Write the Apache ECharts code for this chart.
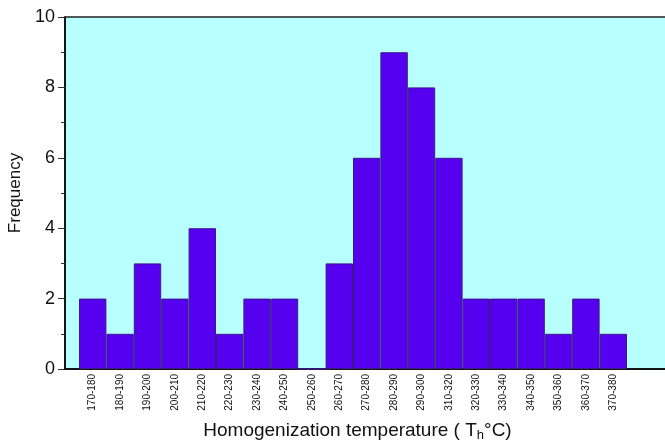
<!DOCTYPE html>
<html><head><meta charset="utf-8">
<script src="https://cdn.jsdelivr.net/npm/echarts@6/dist/echarts.min.js"></script>
<style>html,body{margin:0;padding:0;background:#fff}#c{width:665px;height:442px}</style>
</head><body><div id="c"></div>
<script>
const categories = ['170-180','180-190','190-200','200-210','210-220','220-230','230-240','240-250','250-260','260-270','270-280','280-290','290-300','310-320','320-330','330-340','340-350','350-360','360-370','370-380'];
const frequency = [2,1,3,2,4,1,2,2,0,3,6,9,8,6,2,2,2,1,2,1];
const yTicks = [0,2,4,6,8,10];

const chart = echarts.init(document.getElementById('c'));
const F = 'Liberation Sans, Arial, sans-serif';
chart.setOption({
  animation: false,
  grid: [
    {left: 65, right: -17, top: 17, bottom: 73, show: true, backgroundColor: '#b8ffff', borderColor: '#222', borderWidth: 1.5, containLabel: false, outerBoundsMode: 'none'},
    {left: 79, width: 548, top: 17, bottom: 73, containLabel: false, outerBoundsMode: 'none'}
  ],
  xAxis: [
    {type: 'value', gridIndex: 0, min: 0, max: 1, show: true, axisLine: {show: true, lineStyle: {color: '#000', width: 1.5}}, axisTick: {show: false}, axisLabel: {show: false}, splitLine: {show: false},
     name: '{a|Homogenization temperature ( T}{s|h}{a|°C)}', nameLocation: 'middle', nameGap: 50,
     nameTextStyle: {padding: [0, 32, 0, 0], rich: {a: {fontSize: 19, fontFamily: F, color: '#111'}, s: {fontSize: 13, fontFamily: F, color: '#111', verticalAlign: 'bottom', padding: [10,0,0,0]}}}},
    {type: 'category', gridIndex: 1, data: categories, boundaryGap: true,
     axisLine: {show: false}, axisTick: {show: false},
     axisLabel: {rotate: 90, fontSize: 10, fontFamily: F, color: '#111', interval: 0, margin: 5}}
  ],
  yAxis: [
    {type: 'value', gridIndex: 0, min: 0, max: 10, interval: 2,
     axisLine: {show: true, lineStyle: {color: '#000', width: 1.5}},
     axisTick: {show: true, length: 7, lineStyle: {color: '#333'}},
     minorTick: {show: true, splitNumber: 2, length: 4, lineStyle: {color: '#333'}},
     axisLabel: {fontSize: 18, fontFamily: F, color: '#111', margin: 10, formatter: v => yTicks.includes(v) ? String(v) : ''},
     splitLine: {show: false},
     name: 'Frequency', nameLocation: 'middle', nameGap: 38, nameRotate: 90,
     nameTextStyle: {fontSize: 17, fontFamily: F, color: '#111', padding: [0, 0, 0, 0]}},
    {type: 'value', gridIndex: 1, min: 0, max: 10, show: false}
  ],
  series: [{
    type: 'bar', xAxisIndex: 1, yAxisIndex: 1, data: frequency, barCategoryGap: '0%',
    itemStyle: {color: '#5500ee', borderColor: '#3a1a8a', borderWidth: 1}
  }]
});
</script></body></html>
